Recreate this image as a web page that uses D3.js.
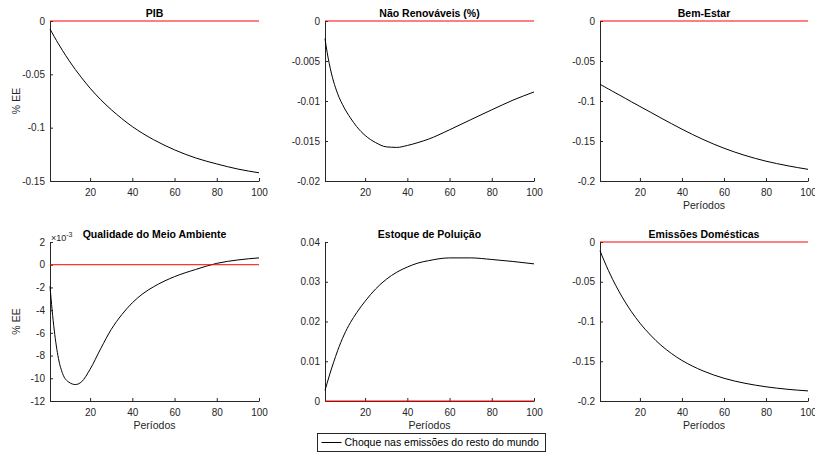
<!DOCTYPE html>
<html>
<head>
<meta charset="utf-8">
<script src="https://cdn.jsdelivr.net/npm/d3@7"></script>
<style>
  body { margin: 0; background: #fff; }
  svg { display: block; font-family: "Liberation Sans", Arial, Helvetica, sans-serif; }
</style>
</head>
<body>
<svg id="chart" width="815" height="453"></svg>
<script>
// ---------- Data ----------
const periods = [1, 2, 3, 4, 5, 7, 10, 13, 16, 20, 25, 30, 35, 40, 45, 50, 60, 70, 80, 90, 100];

const pib = [-0.0075, -0.0111, -0.0146, -0.0181, -0.0214, -0.0279, -0.0370, -0.0455, -0.0533, -0.0630,
  -0.0737, -0.0831, -0.0915, -0.0990, -0.1055, -0.1112, -0.1208, -0.1284, -0.1340, -0.1388, -0.1423];

const naoRenovaveis = [-0.0022, -0.0039, -0.0053, -0.0065, -0.0075, -0.0091, -0.0108, -0.0121, -0.0132, -0.0143,
  -0.0152, -0.01573, -0.0158, -0.01556, -0.0152, -0.01477, -0.0136, -0.01234, -0.0111, -0.0099, -0.00887];

const bemEstar = [-0.0791, -0.0806, -0.0820, -0.0835, -0.0849, -0.0879, -0.0922, -0.0966, -0.1010, -0.1068,
  -0.1140, -0.1212, -0.1283, -0.1352, -0.1418, -0.1480, -0.1590, -0.1680, -0.1752, -0.1808, -0.1854];

const qualidade = [-0.0019, -0.0040, -0.00575, -0.00715, -0.00825, -0.0096, -0.01035, -0.01055, -0.0103, -0.0092,
  -0.0074, -0.0057, -0.0044, -0.00335, -0.00255, -0.00195, -0.00105, -0.00042, 0.00012, 0.00042, 0.0006];

const estoque = [0.0027, 0.0045, 0.0063, 0.0080, 0.0096, 0.0127, 0.0166, 0.0197, 0.0222, 0.0251,
  0.0282, 0.0306, 0.0324, 0.0337, 0.0347, 0.0353, 0.0360, 0.0360, 0.0356, 0.0351, 0.0345];

const emissoes = [-0.0109, -0.0175, -0.0238, -0.0299, -0.0358, -0.0469, -0.0620, -0.0756, -0.0878, -0.1020,
  -0.1170, -0.1298, -0.1402, -0.1490, -0.1561, -0.1621, -0.1714, -0.1777, -0.1821, -0.1852, -0.1873];

const xTicks = [20, 40, 60, 80, 100];

const titles = ["PIB", "Não Renováveis (%)", "Bem-Estar", "Qualidade do Meio Ambiente", "Estoque de Poluição", "Emissões Domésticas"];
const legendLabel = "Choque nas emissões do resto do mundo";

// ---------- Panel setup ----------
const panels = [
  { title: titles[0], values: pib, domain: [-0.15, 0], ticks: [-0.15, -0.1, -0.05, 0], col: 0, row: 0, yLabel: true },
  { title: titles[1], values: naoRenovaveis, domain: [-0.02, 0], ticks: [-0.02, -0.015, -0.01, -0.005, 0], col: 1, row: 0 },
  { title: titles[2], values: bemEstar, domain: [-0.2, 0], ticks: [-0.2, -0.15, -0.1, -0.05, 0], col: 2, row: 0, xLabel: true },
  { title: titles[3], values: qualidade, domain: [-0.012, 0.002], ticks: [-0.012, -0.01, -0.008, -0.006, -0.004, -0.002, 0, 0.002], col: 0, row: 1, yLabel: true, xLabel: true, exp: -3 },
  { title: titles[4], values: estoque, domain: [0, 0.04], ticks: [0, 0.01, 0.02, 0.03, 0.04], col: 1, row: 1, xLabel: true },
  { title: titles[5], values: emissoes, domain: [-0.2, 0], ticks: [-0.2, -0.15, -0.1, -0.05, 0], col: 2, row: 1, xLabel: true },
];

const colX = [[50, 259], [325, 534], [600, 808]];
const rowY = [[21, 181], [242, 401]];
const axisColor = "#262626";

const svg = d3.select("#chart");

const fmt = (v, exp) => {
  const s = exp ? v / Math.pow(10, exp) : v;
  return String(+s.toFixed(6));
};

function styleAxis(g) {
  g.attr("font-size", 10).attr("font-family", null);
  g.select(".domain").attr("stroke", axisColor);
  g.selectAll(".tick line").attr("stroke", axisColor);
  g.selectAll(".tick text").attr("fill", axisColor);
}

panels.forEach((p) => {
  const [x0, x1] = colX[p.col];
  const [y0, y1] = rowY[p.row];
  const x = d3.scaleLinear().domain([1, 100]).range([x0, x1]);
  const y = d3.scaleLinear().domain(p.domain).range([y1, y0]);
  const g = svg.append("g");

  // axes (box off, ticks pointing inward)
  g.append("g")
    .attr("transform", `translate(${x0},0)`)
    .call(d3.axisLeft(y).tickValues(p.ticks).tickSizeInner(-3).tickSizeOuter(0).tickPadding(5)
      .tickFormat((d) => fmt(d, p.exp)))
    .call(styleAxis);

  g.append("g")
    .attr("transform", `translate(0,${y1})`)
    .call(d3.axisBottom(x).tickValues(xTicks).tickSizeInner(-3).tickSizeOuter(0).tickPadding(8)
      .tickFormat(d3.format("d")))
    .call(styleAxis);

  // response line
  const line = d3.line().x((d) => x(d[0])).y((d) => y(d[1])).curve(d3.curveMonotoneX);
  g.append("path")
    .datum(periods.map((t, i) => [t, p.values[i]]))
    .attr("d", line)
    .attr("fill", "none")
    .attr("stroke", "#000")
    .attr("stroke-width", 1);

  // steady-state reference line
  g.append("path")
    .datum([[1, 0], [100, 0]])
    .attr("d", d3.line().x((d) => x(d[0])).y((d) => y(d[1])))
    .attr("fill", "none")
    .attr("stroke", "#ff0000")
    .attr("stroke-width", 1);

  // title
  g.append("text")
    .attr("x", (x0 + x1) / 2)
    .attr("y", y0 - 4)
    .attr("text-anchor", "middle")
    .attr("font-size", 10.5)
    .attr("font-weight", "bold")
    .attr("fill", "#000")
    .text(p.title);

  if (p.yLabel) {
    g.append("text")
      .attr("transform", `translate(16,${(y0 + y1) / 2}) rotate(-90)`)
      .attr("text-anchor", "middle")
      .attr("dy", "0.35em")
      .attr("font-size", 10.5)
      .attr("fill", axisColor)
      .text("% EE");
  }

  if (p.xLabel) {
    g.append("text")
      .attr("x", (x0 + x1) / 2)
      .attr("y", y1 + 28)
      .attr("text-anchor", "middle")
      .attr("font-size", 10.5)
      .attr("fill", axisColor)
      .text("Períodos");
  }

  if (p.exp) {
    const t = g.append("text")
      .attr("x", x0 + 1)
      .attr("y", y0 - 1.5)
      .attr("font-size", 9)
      .attr("fill", axisColor);
    t.append("tspan").text("×10");
    t.append("tspan").attr("dy", -4).attr("font-size", 7).text(p.exp);
  }
});

// ---------- Legend ----------
const legend = svg.append("g").attr("transform", "translate(317.5,433.5)");
legend.append("rect")
  .attr("width", 228)
  .attr("height", 18)
  .attr("fill", "#fff")
  .attr("stroke", axisColor)
  .attr("stroke-width", 1);
legend.append("line")
  .attr("x1", 4).attr("x2", 24)
  .attr("y1", 9).attr("y2", 9)
  .attr("stroke", "#000")
  .attr("stroke-width", 1);
legend.append("text")
  .attr("x", 27)
  .attr("y", 9)
  .attr("dy", "0.35em")
  .attr("font-size", 10.5)
  .attr("fill", "#000")
  .text(legendLabel);
</script>
</body>
</html>
